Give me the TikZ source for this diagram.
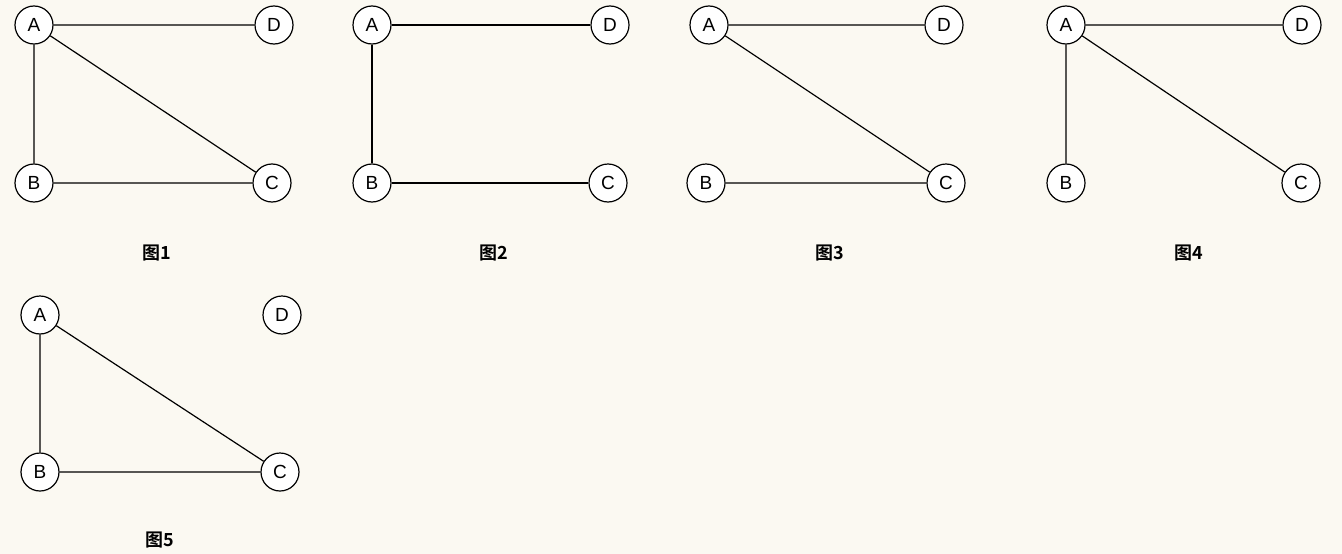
\documentclass[tikz,border=0pt]{standalone}
\usepackage{fontspec}
\setmainfont{Liberation Sans}
\newfontfamily\cjk{Noto Sans CJK SC}[BoldFont={Noto Sans CJK SC Bold}]
\definecolor{bg}{HTML}{FBF9F2}
\begin{document}
\begin{tikzpicture}[x=1pt,y=-1pt,
  v/.style={circle,draw,line width=1.2pt,fill=white,minimum size=38pt,inner sep=0pt,font=\fontsize{19}{19}\selectfont},
  figcap/.style={font=\cjk\bfseries\fontsize{18}{18}\selectfont},
  e/.style={line width=1.2pt}]
\fill[bg] (0,0) rectangle (1342,554);
\useasboundingbox (0,0) rectangle (1342,554);
\newcommand\gph[6]{%
  \node[v] (#1A) at (#2) {A};
  \node[v] (#1D) at (#3) {D};
  \node[v] (#1B) at (#4) {B};
  \node[v] (#1C) at (#5) {C};
  \node[figcap] (#1L) at (#6) {图#1};}
\gph{1}{34,25}{274,25}{34,183}{272,183}{157,253}
\gph{2}{372,25}{610,25}{372,183}{608,183}{494,253}
\gph{3}{709,25}{944,25}{706,183}{946,183}{830,253}
\gph{4}{1066,25}{1302,25}{1066,183}{1301,183}{1189,253}
\gph{5}{40,315}{282,315}{40,472}{280,472}{160,540}
\draw[e] (1A)--(1D) (1A)--(1B) (1A)--(1C) (1B)--(1C);
\draw[e] (2A)--(2D) (2A)--(2B) (2B)--(2C);
\draw[e] (3A)--(3D) (3A)--(3C) (3B)--(3C);
\draw[e] (4A)--(4D) (4A)--(4B) (4A)--(4C);
\draw[e] (5A)--(5B) (5A)--(5C) (5B)--(5C);
\end{tikzpicture}
\end{document}
